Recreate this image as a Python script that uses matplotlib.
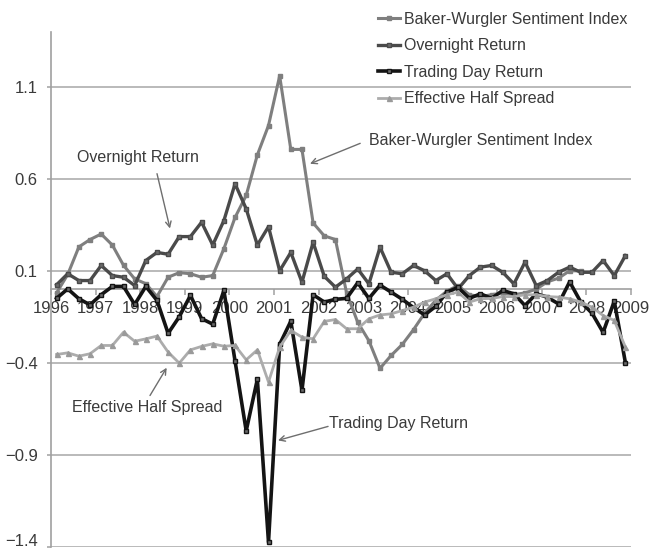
import numpy as np
import matplotlib
matplotlib.use("Agg")
import matplotlib.pyplot as plt
import matplotlib.transforms as mtransforms

# ---------------- data (quarterly, 1996Q1 .. 2008Q4) ----------------
years = list(range(1996, 2009))
quarters = [1, 2, 3, 4]
tick_years = list(range(1996, 2010))

baker_wurgler = [
    -0.02, 0.08, 0.23, 0.27, 0.30, 0.24, 0.13, 0.056,
    0.03, -0.04, 0.065, 0.09, 0.084, 0.065, 0.074, 0.22,
    0.39, 0.51, 0.73, 0.89, 1.16, 0.76, 0.76, 0.36,
    0.29, 0.27, -0.02, -0.18, -0.28, -0.43, -0.36, -0.30,
    -0.22, -0.13, -0.06, -0.01, 0.02, -0.03, -0.04, -0.03,
    -0.02, -0.03, -0.02, 0.00, 0.04, 0.06, 0.10, 0.10,
    np.nan, np.nan, np.nan, np.nan,
]
overnight_return = [
    0.024, 0.084, 0.047, 0.047, 0.129, 0.074, 0.065, 0.02,
    0.156, 0.20, 0.19, 0.286, 0.286, 0.364, 0.24, 0.373,
    0.573, 0.437, 0.24, 0.34, 0.10, 0.20, 0.038, 0.255,
    0.07, 0.011, 0.056, 0.11, 0.029, 0.228, 0.092, 0.084,
    0.129, 0.10, 0.047, 0.084, 0.002, 0.074, 0.12, 0.129,
    0.092, 0.029, 0.147, 0.02, 0.047, 0.092, 0.12, 0.092,
    0.092, 0.156, 0.074, 0.183,
]
trading_day_return = [
    -0.05, 0.002, -0.052, -0.085, -0.03, 0.015, 0.015, -0.083,
    0.015, -0.061, -0.24, -0.15, -0.034, -0.16, -0.19, -0.007,
    -0.39, -0.77, -0.49, -1.375, -0.30, -0.174, -0.55, -0.03,
    -0.07, -0.055, -0.05, 0.035, -0.05, 0.022, -0.016, -0.055,
    -0.10, -0.14, -0.093, -0.016, 0.01, -0.05, -0.025, -0.05,
    -0.007, -0.025, -0.089, -0.025, -0.043, -0.08, 0.04, -0.07,
    -0.13, -0.235, -0.065, -0.40,
]
effective_half_spread = [
    -0.355, -0.346, -0.364, -0.351, -0.306, -0.306, -0.234, -0.283,
    -0.27, -0.255, -0.342, -0.402, -0.33, -0.311, -0.297, -0.31,
    -0.306, -0.384, -0.33, -0.505, -0.315, -0.224, -0.261, -0.27,
    -0.175, -0.165, -0.215, -0.215, -0.161, -0.14, -0.134, -0.116,
    -0.098, -0.07, -0.052, -0.03, -0.016, -0.07, -0.052, -0.05,
    -0.04, -0.04, -0.03, -0.03, -0.04, -0.043, -0.052, -0.07,
    -0.098, -0.143, -0.17, -0.315,
]
y_ticks = [-1.4, -0.9, -0.4, 0.1, 0.6, 1.1]

# x position of each quarter: middle of the quarter
x = np.array([y + (q - 0.5) / 4 for y in years for q in quarters])

# ---------------- style ----------------
plt.rcParams['font.family'] = ['Liberation Sans', 'DejaVu Sans']
TXT = '#3a3a3a'
C_BW = '#7f7f7f'
C_ON = '#4a4a4a'
C_TD = '#141414'
C_EH = '#acacac'

fig = plt.figure(figsize=(6.52, 5.51), dpi=100)
ax = fig.add_axes([51 / 652, 1 - 546.7 / 551, 580 / 652, (546.7 - 31.7) / 551])

ax.set_xlim(1996, 2009)
ax.set_ylim(-1.4, 1.4)

for yt in y_ticks:
    ax.axhline(yt, color='#b4b4b4', lw=1.3, zorder=1)

l1, = ax.plot(x, baker_wurgler, color=C_BW, lw=2.2, marker='s', ms=2.8,
              mfc=C_BW, mec=C_BW, zorder=3, label='Baker-Wurgler Sentiment Index')
l2, = ax.plot(x, overnight_return, color=C_ON, lw=2.4, marker='s', ms=2.6,
              mfc='#6a6a6a', mec=C_ON, zorder=4, label='Overnight Return')
l3, = ax.plot(x, trading_day_return, color=C_TD, lw=2.6, marker='s', ms=2.8,
              mfc='#6a6a6a', mec=C_TD, zorder=5, label='Trading Day Return')
l4, = ax.plot(x, effective_half_spread, color=C_EH, lw=2.0, marker='^', ms=3.6,
              mfc='#9a9a9a', mec='#9a9a9a', zorder=6, label='Effective Half Spread')

# axes
for s in ['top', 'right']:
    ax.spines[s].set_visible(False)
ax.spines['left'].set_color('#a0a0a0')
ax.spines['left'].set_linewidth(1.2)
ax.spines['bottom'].set_position(('data', 0))
ax.spines['bottom'].set_color('#a0a0a0')
ax.spines['bottom'].set_linewidth(1.2)

ax.set_yticks(y_ticks)
ax.set_yticklabels([f"{v:.1f}".replace('-', '\u2212') for v in y_ticks])
ax.set_xticks(tick_years)
ax.set_xticklabels([str(t) for t in tick_years])
ax.tick_params(axis='y', length=3, width=1.1, color='#a0a0a0', pad=6.5,
               labelsize=12, labelcolor=TXT)
ax.tick_params(axis='x', length=4, width=1.1, color='#a0a0a0', pad=4.5,
               labelsize=12, labelcolor=TXT)
for lab in ax.get_xticklabels():
    lab.set_zorder(2)

# annotations
akw = dict(arrowstyle='->', color='#6e6e6e', lw=1.0, shrinkA=0, shrinkB=0)
ax.annotate('', xy=(1998.667, 0.33), xytext=(1998.376, 0.628), arrowprops=akw)
ax.text(1997.95, 0.716, 'Overnight Return', ha='center', va='center',
        fontsize=11.5, color=TXT)
ax.annotate('', xy=(2001.805, 0.682), xytext=(2002.93, 0.793), arrowprops=akw)
ax.text(2005.64, 0.808, 'Baker-Wurgler Sentiment Index', ha='center', va='center',
        fontsize=11.5, color=TXT)
ax.annotate('', xy=(1998.593, -0.427), xytext=(1998.219, -0.578), arrowprops=akw)
ax.text(1998.167, -0.643, 'Effective Half Spread', ha='center', va='center',
        fontsize=11.5, color=TXT)
ax.annotate('', xy=(2001.088, -0.822), xytext=(2002.21, -0.746), arrowprops=akw)
ax.text(2003.78, -0.73, 'Trading Day Return', ha='center', va='center',
        fontsize=11.5, color=TXT)

leg = fig.legend(handles=[l1, l2, l3, l4], loc='center left',
                 bbox_to_anchor=(378 / 652, 1 - 59 / 551), frameon=False,
                 fontsize=11.5, handlelength=1.4, handletextpad=0.2,
                 labelspacing=0.72, borderpad=0, borderaxespad=0)
for t in leg.get_texts():
    t.set_color(TXT)

# keep the bottom tick label inside the figure (nudge it up a few pixels)
fig.canvas.draw()
bottom_lab = ax.get_yticklabels()[0]
bottom_lab.set_transform(bottom_lab.get_transform() +
                         mtransforms.ScaledTranslation(0, 4.5 / 72, fig.dpi_scale_trans))

fig.savefig('out.png', dpi=100)
